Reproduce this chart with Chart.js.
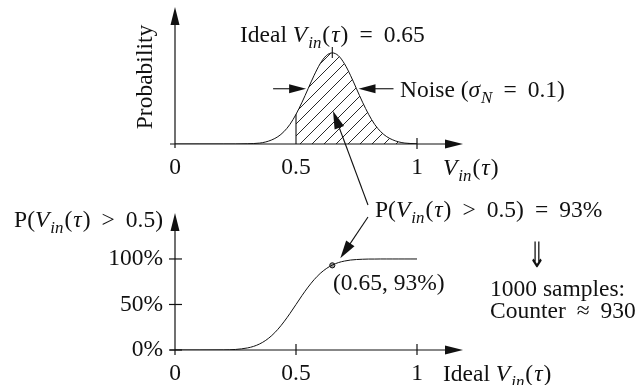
<!DOCTYPE html>
<html>
<head>
<meta charset="utf-8">
<script src="https://cdn.jsdelivr.net/npm/chart.js@4.4.1/dist/chart.umd.min.js"></script>
<style>
  html, body { margin: 0; padding: 0; background: #fff; }
  #wrap { position: relative; width: 639px; height: 385px; overflow: hidden; }
  #wrap canvas { position: absolute; left: 0; top: 0; }
</style>
</head>
<body>
<div id="wrap">
  <canvas id="pdf" width="639" height="385"></canvas>
  <canvas id="cdf" width="639" height="385"></canvas>
</div>
<script>
// Ideal input voltage V_in(tau) sample positions
const vin = [0, 0.1, 0.2, 0.25, 0.3, 0.325, 0.35, 0.375, 0.4, 0.425, 0.45, 0.475,
             0.5, 0.525, 0.55, 0.575, 0.6, 0.625, 0.65, 0.675, 0.7, 0.725, 0.75,
             0.775, 0.8, 0.825, 0.85, 0.875, 0.9, 0.925, 0.95, 0.975, 1];
// Noise probability density around the ideal value 0.65 (sigma_N = 0.1)
const density = [0, 0, 0, 0, 0.01, 0.02, 0.04, 0.09, 0.18, 0.32, 0.54, 0.86,
                 1.30, 1.83, 2.42, 3.01, 3.52, 3.87, 3.99, 3.87, 3.52, 3.01, 2.42,
                 1.83, 1.30, 0.86, 0.54, 0.32, 0.18, 0.09, 0.04, 0.02, 0.01];
// P(V_in(tau) > 0.5) in percent, as a function of the ideal V_in(tau)
const probAbove = [0, 0, 0.1, 0.6, 2.3, 4.0, 6.7, 10.6, 15.9, 22.7, 30.9, 40.1,
                   50, 59.9, 69.1, 77.3, 84.1, 89.4, 93.3, 96.0, 97.7, 98.8, 99.4,
                   99.7, 99.9, 99.9, 100, 100, 100, 100, 100, 100, 100];
// Axis ticks
const xTicks = [0, 0.5, 1];
const yTicksPct = [0, 50, 100];
// Decision threshold, ideal value and the highlighted operating point
const threshold = 0.5;
const idealVin = 0.65;
const sigmaN = 0.1;
const operatingPoint = [0.65, 93];
const sampleCount = 1000;

const FAMILY = '"Liberation Serif", "Times New Roman", serif';
const SIZE = 23.5;
const GAP = 11;
const INK = '#111';

function fontFor(style) {
  if (style === 'i') return `italic ${SIZE}px ${FAMILY}`;
  if (style === 's') return `italic ${(SIZE * 0.72).toFixed(1)}px ${FAMILY}`;
  return `${SIZE}px ${FAMILY}`;
}
function richWidth(ctx, segs) {
  let w = 0;
  for (const s of segs) {
    if (typeof s === 'number') { w += s; continue; }
    ctx.font = fontFor(s[1]);
    w += ctx.measureText(s[0]).width;
  }
  return w;
}
// Draws mixed roman / italic / subscript text on one baseline
function drawRich(ctx, segs, x, y, align) {
  ctx.save();
  ctx.fillStyle = INK;
  ctx.textAlign = 'left';
  ctx.textBaseline = 'alphabetic';
  let cx = x;
  if (align === 'right') cx = x - richWidth(ctx, segs);
  if (align === 'center') cx = x - richWidth(ctx, segs) / 2;
  for (const s of segs) {
    if (typeof s === 'number') { cx += s; continue; }
    ctx.font = fontFor(s[1]);
    ctx.fillText(s[0], cx, y + (s[1] === 's' ? 5.5 : 0));
    cx += ctx.measureText(s[0]).width;
  }
  ctx.restore();
}
// Straight line ending in a filled triangular head at (x2, y2)
function arrow(ctx, x1, y1, x2, y2, head = 17, half = 4.5) {
  const a = Math.atan2(y2 - y1, x2 - x1);
  const c = Math.cos(a), s = Math.sin(a);
  ctx.beginPath();
  ctx.moveTo(x1, y1);
  ctx.lineTo(x2 - c * head * 0.7, y2 - s * head * 0.7);
  ctx.stroke();
  ctx.beginPath();
  ctx.moveTo(x2, y2);
  ctx.lineTo(x2 - c * head - s * half, y2 - s * head + c * half);
  ctx.lineTo(x2 - c * head + s * half, y2 - s * head - c * half);
  ctx.closePath();
  ctx.fill();
}
function line(ctx, x1, y1, x2, y2) {
  ctx.beginPath(); ctx.moveTo(x1, y1); ctx.lineTo(x2, y2); ctx.stroke();
}

const VIN = [['V', 'i'], 1, ['in', 's'], 1, ['(', 'r'], 1, ['τ', 'i'], 1, [')', 'r']];
const pLabel = [['P(', 'r'], ...VIN, GAP, ['>', 'r'], GAP, [`${threshold})`, 'r']];

// Diagonal hatching for the area above the threshold
function hatchPattern() {
  const t = 12;
  const c = document.createElement('canvas');
  c.width = t; c.height = t;
  const g = c.getContext('2d');
  g.strokeStyle = INK;
  g.lineWidth = 0.9;
  g.beginPath();
  g.moveTo(0, t); g.lineTo(t, 0);
  g.moveTo(-2, 2); g.lineTo(2, -2);
  g.moveTo(t - 2, t + 2); g.lineTo(t + 2, t - 2);
  g.stroke();
  return g.createPattern(c, 'repeat');
}

const pts = (ys) => vin.map((v, i) => ({ x: v, y: ys[i] }));
const iThr = vin.indexOf(threshold);
const iIdeal = vin.indexOf(idealVin);

const fontTicks = { family: 'Liberation Serif', size: SIZE };

// ---------- upper panel: noise distribution ----------
const pdfDecor = {
  id: 'pdfDecor',
  beforeDatasetsDraw(chart) {
    const ctx = chart.ctx, x = chart.scales.x, y = chart.scales.y;
    const x0 = x.getPixelForValue(0), yb = y.getPixelForValue(0);
    ctx.save();
    ctx.strokeStyle = INK; ctx.fillStyle = INK; ctx.lineWidth = 1.2;
    arrow(ctx, x0 - 5, yb, 463, yb, 18, 4.5);
    arrow(ctx, x0, yb + 4, x0, chart.chartArea.top, 18, 4.5);
    const x1 = x.getPixelForValue(1);
    line(ctx, x1, yb - 6, x1, yb + 5);
    ctx.restore();
  },
  afterDatasetsDraw(chart) {
    const ctx = chart.ctx, x = chart.scales.x, y = chart.scales.y;
    ctx.save();
    ctx.strokeStyle = INK; ctx.fillStyle = INK; ctx.lineWidth = 1.1;
    // marker on the peak
    const px = x.getPixelForValue(idealVin), py = y.getPixelForValue(density[iIdeal]);
    line(ctx, px, py - 6, px, py + 5);
    // noise width arrows at one sigma either side
    const ys = y.getPixelForValue(density[vin.indexOf(0.55)]);
    const xl = x.getPixelForValue(idealVin - sigmaN) - 2;
    const xr = x.getPixelForValue(idealVin + sigmaN) + 2;
    arrow(ctx, xl - 33, ys, xl, ys, 17, 4.5);
    arrow(ctx, xr + 35, ys, xr, ys, 17, 4.5);
    ctx.restore();

    drawRich(ctx, [['Ideal ', 'r'], ...VIN, GAP, ['=', 'r'], GAP, [String(idealVin), 'r']], 240, 42);
    drawRich(ctx, [['Noise (', 'r'], ['σ', 'i'], 1, ['N', 's'], GAP, ['=', 'r'], GAP, [`${sigmaN})`, 'r']], 400, 97);
    drawRich(ctx, VIN, 443, 175);

    ctx.save();
    ctx.translate(152, 77);
    ctx.rotate(-Math.PI / 2);
    ctx.font = `${SIZE}px ${FAMILY}`;
    ctx.fillStyle = INK;
    ctx.textAlign = 'center';
    ctx.textBaseline = 'alphabetic';
    ctx.fillText('Probability', 0, 0);
    ctx.restore();
  }
};

const pdfChart = new Chart(document.getElementById('pdf'), {
  type: 'line',
  data: {
    datasets: [
      {
        label: 'Noise density',
        data: pts(density),
        borderColor: INK, borderWidth: 1, pointRadius: 0,
        cubicInterpolationMode: 'monotone', fill: false, order: 1
      },
      {
        label: 'Above threshold',
        data: pts(density).slice(iThr),
        borderWidth: 0, borderColor: 'rgba(0,0,0,0)', pointRadius: 0,
        cubicInterpolationMode: 'monotone',
        fill: 'origin', backgroundColor: hatchPattern(), order: 2
      },
      {
        label: 'Threshold',
        data: [{ x: threshold, y: 0 }, { x: threshold, y: density[iThr] }],
        borderColor: INK, borderWidth: 1.1, pointRadius: 0, fill: false, order: 0
      }
    ]
  },
  options: {
    responsive: false, animation: false, devicePixelRatio: 1,
    layout: { padding: { left: 175, right: 222, top: 7, bottom: 201 } },
    plugins: { legend: { display: false }, tooltip: { enabled: false } },
    scales: {
      x: {
        type: 'linear', min: 0, max: 1,
        grid: { display: false, drawTicks: false }, border: { display: false },
        afterBuildTicks: (s) => { s.ticks = xTicks.map(v => ({ value: v })); },
        afterFit: (s) => { s.height = 40; },
        ticks: { font: fontTicks, color: INK, padding: 10, maxRotation: 0, autoSkip: false,
                 callback: (v) => String(v) }
      },
      y: { type: 'linear', min: 0, max: 6, display: false }
    }
  },
  plugins: [pdfDecor]
});

// ---------- lower panel: probability of exceeding the threshold ----------
function drawDownArrow(ctx, cx, top, w, h) {
  ctx.save();
  ctx.font = `40px "DejaVu Sans"`;
  const m = ctx.measureText('⇓');
  const gw = m.actualBoundingBoxLeft + m.actualBoundingBoxRight;
  const gh = m.actualBoundingBoxAscent + m.actualBoundingBoxDescent;
  ctx.translate(cx - w / 2, top);
  ctx.scale(w / gw, h / gh);
  ctx.fillStyle = INK;
  ctx.textAlign = 'left';
  ctx.textBaseline = 'alphabetic';
  ctx.fillText('⇓', m.actualBoundingBoxLeft, m.actualBoundingBoxAscent);
  ctx.restore();
}

const cdfDecor = {
  id: 'cdfDecor',
  beforeDatasetsDraw(chart) {
    const ctx = chart.ctx, x = chart.scales.x, y = chart.scales.y;
    const x0 = x.getPixelForValue(0), yb = y.getPixelForValue(0);
    ctx.save();
    ctx.strokeStyle = INK; ctx.fillStyle = INK; ctx.lineWidth = 1.2;
    arrow(ctx, x0 - 5, yb, 463, yb, 18, 4.5);
    arrow(ctx, x0, yb + 5, x0, chart.chartArea.top, 18, 4.5);
    for (const v of yTicksPct) {
      const ty = y.getPixelForValue(v);
      line(ctx, x0 - 6, ty, x0 + 7, ty);
    }
    for (const v of xTicks.slice(1)) {
      const tx = x.getPixelForValue(v);
      line(ctx, tx, yb - 6, tx, yb + 5);
    }
    ctx.restore();
  },
  afterDatasetsDraw(chart) {
    const ctx = chart.ctx, x = chart.scales.x, y = chart.scales.y;
    const [ox, oy] = operatingPoint;
    const opx = x.getPixelForValue(ox), opy = y.getPixelForValue(oy);

    drawRich(ctx, pLabel, 163, 227, 'right');
    drawRich(ctx, [['Ideal ', 'r'], ...VIN], 443, 381);
    drawRich(ctx, [[`(${ox}, ${oy}%)`, 'r']], 333, 290);
    drawRich(ctx, [...pLabel, GAP, ['=', 'r'], GAP, [`${oy}%`, 'r']], 375, 217);
    drawRich(ctx, [[`${sampleCount} samples:`, 'r']], 490, 296);
    drawRich(ctx, [['Counter', 'r'], GAP, ['≈', 'r'], GAP, [String(Math.round(sampleCount * oy / 100)), 'r']], 490, 318);
    drawDownArrow(ctx, 537, 241, 10, 27);

    // callouts from the probability label to the hatched area and to the point
    const tx = pdfChart.scales.x, ty = pdfChart.scales.y;
    ctx.save();
    ctx.strokeStyle = INK; ctx.fillStyle = INK; ctx.lineWidth = 1.1;
    arrow(ctx, 368, 205, tx.getPixelForValue(0.653), ty.getPixelForValue(1.45), 18, 5);
    arrow(ctx, 368, 217, opx + 8, opy - 7, 18, 5);
    ctx.restore();
  }
};

const cdfChart = new Chart(document.getElementById('cdf'), {
  type: 'line',
  data: {
    datasets: [
      {
        label: 'P(Vin > 0.5)',
        data: pts(probAbove),
        borderColor: INK, borderWidth: 1, pointRadius: 0,
        cubicInterpolationMode: 'monotone', fill: false
      },
      {
        label: 'Operating point',
        data: [{ x: operatingPoint[0], y: operatingPoint[1] }],
        showLine: false, pointRadius: 2.6, pointBorderWidth: 1,
        pointBorderColor: INK, pointBackgroundColor: '#999'
      }
    ]
  },
  options: {
    responsive: false, animation: false, devicePixelRatio: 1,
    layout: { padding: { left: 0, right: 222, top: 213, bottom: 0 } },
    plugins: { legend: { display: false }, tooltip: { enabled: false } },
    scales: {
      x: {
        type: 'linear', min: 0, max: 1,
        grid: { display: false, drawTicks: false }, border: { display: false },
        afterBuildTicks: (s) => { s.ticks = xTicks.map(v => ({ value: v })); },
        afterFit: (s) => { s.height = 35; },
        ticks: { font: fontTicks, color: INK, padding: 10, maxRotation: 0, autoSkip: false,
                 callback: (v) => String(v) }
      },
      y: {
        type: 'linear', min: 0, max: 150.5,
        grid: { display: false, drawTicks: false }, border: { display: false },
        afterBuildTicks: (s) => { s.ticks = yTicksPct.map(v => ({ value: v })); },
        afterFit: (s) => { s.width = 175; },
        ticks: { font: fontTicks, color: INK, padding: 12, autoSkip: false,
                 callback: (v) => v + '%' }
      }
    }
  },
  plugins: [cdfDecor]
});
</script>
</body>
</html>
